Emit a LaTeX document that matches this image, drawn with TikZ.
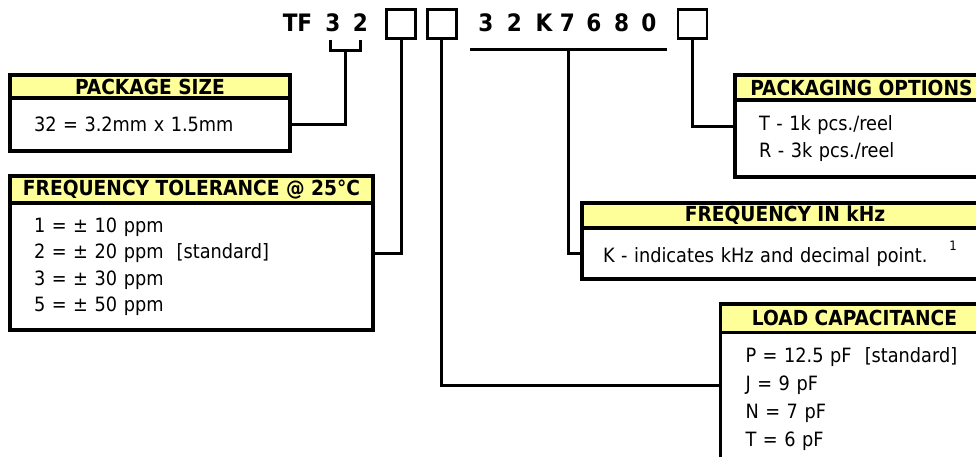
\documentclass[tikz,border=0pt]{standalone}
\usepackage{fontspec}
\setmainfont{DejaVu Sans Condensed}
\usetikzlibrary{positioning}
\definecolor{hdryellow}{HTML}{FFFF99}
\tikzset{
  every picture/.style={line width=3pt},
  head/.style={draw, fill=hdryellow, line width=3.2pt, anchor=north west, inner sep=0pt, outer sep=0pt,
               font=\fontsize{20.7}{24}\selectfont\bfseries},
  body/.style={draw, fill=white, line width=3.2pt, anchor=north, inner xsep=#1, inner ysep=0pt, outer sep=0pt,
               align=left, font=\fontsize{19.7}{26.5}\selectfont},
  body/.default=24pt,
  sq/.style={draw, minimum size=29pt, inner sep=0pt, outer sep=0pt, line width=2.8pt},
  titlechar/.style={anchor=base, inner sep=0pt, font=\fontsize{24}{28}\selectfont\bfseries},
}

\begin{document}
\begin{tikzpicture}[x=1pt, y=-1pt]
  \clip (0,0) rectangle (976,456);
  % part number
  \foreach \ch/\xx [count=\i] in {TF/297.5, 3/333, 2/360.5, 3/486, 2/514.5, K/544, 7/567.5, 6/594, 8/621.7, 0/649}
    \node[titlechar] (t\i) at (\xx,31) {\ch};
  \node[sq] (sq1) at (401.2,23.6) {};
  \node[sq] (sq2) at (441.7,23.6) {};
  \node[sq] (sq3) at (692.5,23.6) {};
  \coordinate (brL) at (330,39.5);
  \coordinate (brR) at (360,39.5);
  \coordinate (brM) at (345,50);
  \coordinate (ulL) at (470,49);
  \coordinate (ulR) at (667,49);
  \coordinate (ulM) at (568,49);

  % description boxes
  \node[head, minimum width=280pt, minimum height=23pt] (pkgH) at (10,75) {PACKAGE SIZE};
  \node[body, text width=232pt, minimum height=53pt, below=0pt of pkgH] (pkgB) {32 = 3.2mm x 1.5mm};

  \node[head, minimum width=363pt, minimum height=27pt] (tolH) at (10,176) {FREQUENCY TOLERANCE @ 25°C};
  \node[body, text width=315pt, minimum height=127pt, below=0pt of tolH] (tolB)
    {1 = ± 10 ppm\\ 2 = ± 20 ppm\ \ [standard]\\ 3 = ± 30 ppm\\ 5 = ± 50 ppm};

  \node[head, minimum width=253pt, minimum height=25pt] (packH) at (735,75) {PACKAGING OPTIONS};
  \node[body, text width=205pt, minimum height=77pt, below=0pt of packH] (packB)
    {T - 1k pcs./reel\\ R - 3k pcs./reel};

  \node[head, minimum width=406pt, minimum height=25pt] (khzH) at (582,203) {FREQUENCY IN kHz};
  \node[body=21pt, text width=364pt, minimum height=51pt, below=0pt of khzH] (khzB)
    {K - indicates kHz and decimal point.\hspace{22pt}\raisebox{12pt}{\fontsize{13}{13}\selectfont 1}};

  \node[head, minimum width=268pt, minimum height=28.5pt] (capH) at (720.5,304) {LOAD CAPACITANCE};
  \node[body=25pt, text width=218pt, minimum height=134pt, below=0pt of capH,
        font=\fontsize{19.7}{28}\selectfont] (capB)
    {P = 12.5 pF\ \ [standard]\\ J = 9 pF\\ N = 7 pF\\ T = 6 pF};

  % connectors
  \draw (brL) |- (brM) -| (brR);
  \draw (brM) |- (pkgB.east);
  \draw (sq1.south) |- ([yshift=13.5pt]tolB.east);
  \draw (sq2.south) |- ([yshift=13.7pt]capB.west);
  \draw (ulL) -- (ulR);
  \draw (ulM) |- (khzB.west);
  \draw (sq3.south) |- ([yshift=12.5pt]packB.west);
\end{tikzpicture}
\end{document}
